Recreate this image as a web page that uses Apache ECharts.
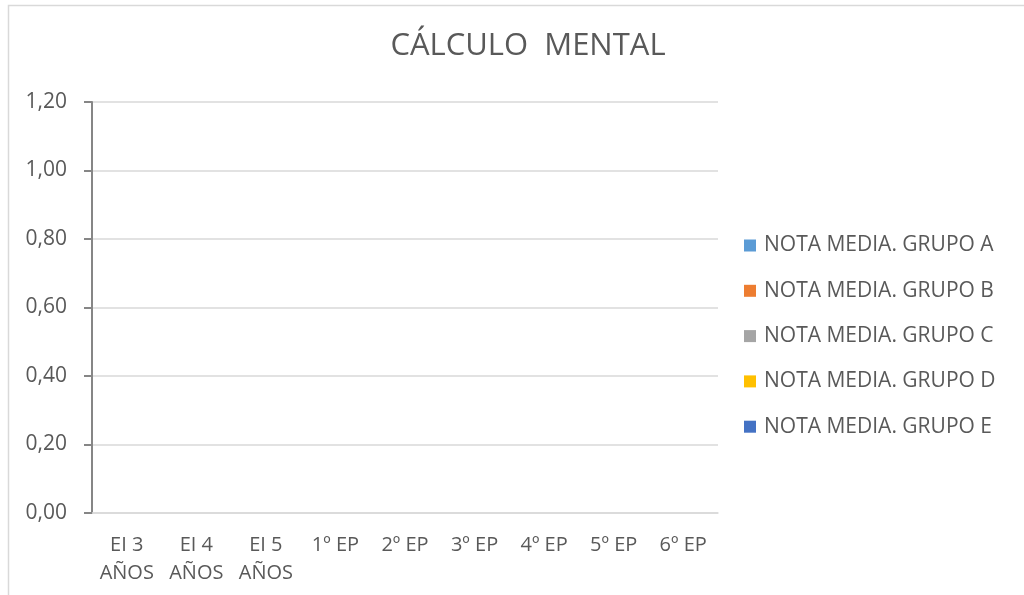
<!DOCTYPE html>
<html>
<head>
<meta charset="utf-8">
<style>
  html, body { margin: 0; padding: 0; background: #fff; }
  #chart { width: 1024px; height: 595px; }
</style>
<script src="https://cdn.jsdelivr.net/npm/echarts@6/dist/echarts.min.js"></script>
</head>
<body>
<div id="chart"></div>
<script>
var categories = ['EI 3\nAÑOS', 'EI 4\nAÑOS', 'EI 5\nAÑOS', '1º EP', '2º EP', '3º EP', '4º EP', '5º EP', '6º EP']
var seriesNames = ['NOTA MEDIA. GRUPO A', 'NOTA MEDIA. GRUPO B', 'NOTA MEDIA. GRUPO C', 'NOTA MEDIA. GRUPO D', 'NOTA MEDIA. GRUPO E']
var seriesColors = ['#5B9BD5', '#ED7D31', '#A5A5A5', '#FFC000', '#4472C4']
// no values recorded in the chart, every bar is empty
var grupoA = [0, 0, 0, 0, 0, 0, 0, 0, 0]
var grupoB = [0, 0, 0, 0, 0, 0, 0, 0, 0]
var grupoC = [0, 0, 0, 0, 0, 0, 0, 0, 0]
var grupoD = [0, 0, 0, 0, 0, 0, 0, 0, 0]
var grupoE = [0, 0, 0, 0, 0, 0, 0, 0, 0]
var seriesData = [grupoA, grupoB, grupoC, grupoD, grupoE]

var font = 'Open Sans, Noto Sans, sans-serif'
var chart = echarts.init(document.getElementById('chart'))

chart.setOption({
  animation: false,
  title: {
    text: 'CÁLCULO  MENTAL',
    left: 523,
    textAlign: 'center',
    top: 26,
    textStyle: {
      color: '#595959',
      fontFamily: font,
      fontWeight: 400,
      fontSize: 31
    }
  },
  graphic: [{
    type: 'rect',
    silent: true,
    shape: { x: 8.5, y: 5.5, width: 1100, height: 700 },
    style: { fill: 'none', stroke: '#d9d9d9', lineWidth: 1.5 }
  }],
  legend: {
    orient: 'vertical',
    left: 739,
    top: 230,
    icon: 'rect',
    itemWidth: 12,
    itemHeight: 12,
    itemGap: 24.3,
    textStyle: {
      color: '#595959',
      fontFamily: font,
      fontSize: 21,
      padding: [0, 0, 0, 3]
    },
    data: seriesNames
  },
  grid: {
    left: 92,
    right: 306,
    top: 102,
    bottom: 82
  },
  xAxis: {
    type: 'category',
    data: categories,
    axisLine: { lineStyle: { color: '#d9d9d9', width: 1.5 } },
    axisTick: { show: false },
    axisLabel: {
      color: '#595959',
      fontFamily: font,
      fontSize: 20,
      lineHeight: 28,
      margin: 18,
      interval: 0
    }
  },
  yAxis: {
    type: 'value',
    min: 0,
    max: 1.2,
    interval: 0.2,
    axisLine: { show: true, lineStyle: { color: '#868686', width: 2 } },
    axisTick: { show: true, length: 8, lineStyle: { color: '#868686', width: 2 } },
    splitLine: { lineStyle: { color: '#d9d9d9', width: 1.5 } },
    axisLabel: {
      color: '#595959',
      fontFamily: font,
      fontSize: 21,
      margin: 25,
      formatter: function (v) { return v.toFixed(2).replace('.', ',') }
    }
  },
  series: seriesNames.map(function (name, i) {
    return {
      name: name,
      type: 'bar',
      itemStyle: { color: seriesColors[i] },
      data: seriesData[i]
    }
  })
})
</script>
</body>
</html>
